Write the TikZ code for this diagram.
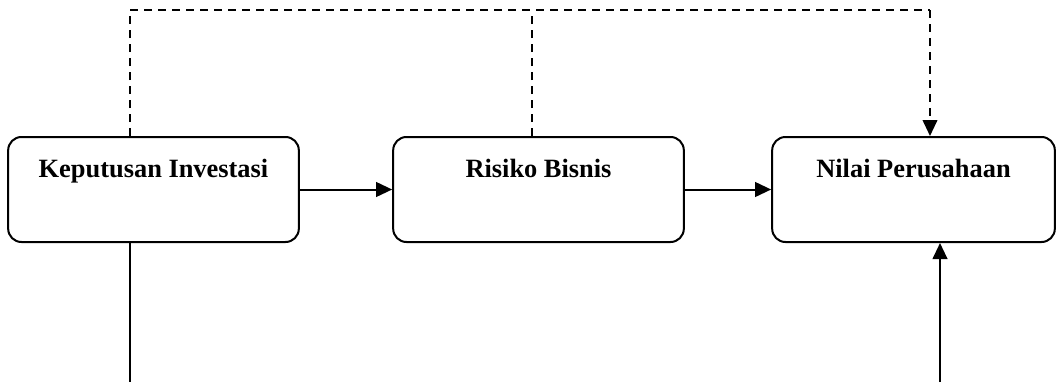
\documentclass[tikz,border=0pt]{standalone}
\usepackage{fontspec}
\setmainfont{Liberation Serif}
\usetikzlibrary{arrows.meta}
\tikzset{
    stage-box/.style = {draw=black, fill=white, line width=1.5pt, rectangle, rounded corners=10pt,
        minimum width=218pt, minimum height=78.75pt, inner sep=0pt},
    stage-title/.style = {anchor=base, font=\fontsize{19.8}{23}\selectfont\bfseries},
    flow/.style = {line width=1.5pt, -{Triangle[length=12pt,width=11pt]}},
    link/.style = {line width=1.5pt},
    side-link/.style = {line width=1.4pt, dash pattern=on 6pt off 4.5pt},
}

\begin{document}
\begin{tikzpicture}[x=0.75pt, y=-0.75pt]
\useasboundingbox (0,0) rectangle (1056,382);

% the three stages
\node [stage-box] (kep) at (153.5,189.5) {};
\node [stage-box] (risiko) at (538.5,189.5) {};
\node [stage-box, minimum width=212pt] (nilai) at (913.5,189.5) {};
\node [stage-title] at ([yshift=-30.75pt]kep.north) {Keputusan Investasi};
\node [stage-title] at ([yshift=-30.75pt]risiko.north) {Risiko Bisnis};
\node [stage-title] at ([yshift=-30.75pt]nilai.north) {Nilai Perusahaan};

% corner points of the outer lines
\coordinate (dl) at (130,10);
\coordinate (dm) at (532,10);
\coordinate (dr) at (930,10);
\coordinate (kb) at (130,382);
\coordinate (nb) at (940,382);

% main flow
\draw [flow] (kep) -- (risiko);
\draw [flow] (risiko) -- (nilai);

% dashed path over the top
\draw [side-link] (kep.north -| dl) -- (dl) -- (dr);
\draw [side-link, -{Triangle[length=12pt,width=11pt]}] (dr) -- (nilai.north -| dr);
\draw [side-link] (risiko.north -| dm) -- (dm);

% lines running off the bottom
\draw [link] (kep.south -| kb) -- (kb);
\draw [flow] (nb) -- (nilai.south -| nb);
\end{tikzpicture}
\end{document}
